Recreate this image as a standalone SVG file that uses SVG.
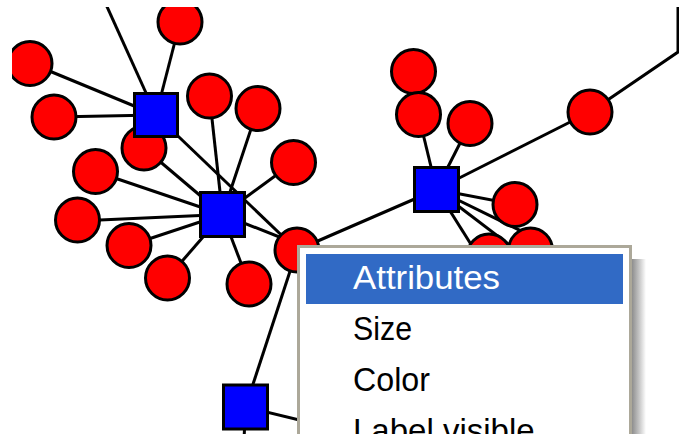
<svg xmlns="http://www.w3.org/2000/svg" width="679" height="434" viewBox="0 0 679 434">
<style>
.e{stroke:#000;stroke-width:3;fill:none}
.c{fill:#FF0000;stroke:#000;stroke-width:3}
.s{fill:#0000FF;stroke:#000;stroke-width:3}
.t{font-family:"Liberation Sans",Arial,sans-serif;font-size:33px}
</style>
<defs>
<clipPath id="canvas"><rect x="12" y="7" width="667" height="427"/></clipPath>
<linearGradient id="shadow" x1="0" y1="0" x2="1" y2="0">
<stop offset="0" stop-color="#8e8e8e"/>
<stop offset="0.5" stop-color="#c4c4c4"/>
<stop offset="1" stop-color="#ffffff"/>
</linearGradient>
</defs>
<rect width="679" height="434" fill="#fff"/>
<g clip-path="url(#canvas)">
<g id="edges">
<line class="e" x1="156" y1="115" x2="104" y2="0"/>
<line class="e" x1="156" y1="115" x2="180" y2="22"/>
<line class="e" x1="156" y1="115" x2="30" y2="63"/>
<line class="e" x1="156" y1="115" x2="54" y2="117"/>
<line class="e" x1="156" y1="115" x2="297" y2="250"/>
<line class="e" x1="144" y1="148" x2="222.5" y2="214.5"/>
<line class="e" x1="209.5" y1="96" x2="222.5" y2="214.5"/>
<line class="e" x1="258" y1="108" x2="222.5" y2="214.5"/>
<line class="e" x1="293.5" y1="162.5" x2="222.5" y2="214.5"/>
<line class="e" x1="95.5" y1="171.5" x2="222.5" y2="214.5"/>
<line class="e" x1="77.5" y1="221" x2="222.5" y2="214.5"/>
<line class="e" x1="129" y1="245.5" x2="222.5" y2="214.5"/>
<line class="e" x1="167.5" y1="278" x2="222.5" y2="214.5"/>
<line class="e" x1="249" y1="284" x2="222.5" y2="214.5"/>
<line class="e" x1="222.5" y1="214.5" x2="297" y2="244"/>
<line class="e" x1="297" y1="250" x2="436.5" y2="189.5"/>
<line class="e" x1="297" y1="250" x2="245.5" y2="407"/>
<line class="e" x1="245.5" y1="407" x2="320" y2="425"/>
<line class="e" x1="245.5" y1="407" x2="244" y2="440"/>
<line class="e" x1="436.5" y1="189.5" x2="418.5" y2="115"/>
<line class="e" x1="436.5" y1="189.5" x2="470" y2="123.5"/>
<line class="e" x1="436.5" y1="189.5" x2="590" y2="112"/>
<line class="e" x1="436.5" y1="189.5" x2="515" y2="204.5"/>
<line class="e" x1="436.5" y1="189.5" x2="484" y2="265"/>
<line class="e" x1="436.5" y1="189.5" x2="545" y2="272"/>
<line class="e" x1="436.5" y1="189.5" x2="560" y2="250"/>
<polyline class="e" points="590,112 678,52 678,0"/>
</g>
<g id="n1"><circle class="c" cx="180" cy="22" r="22"/></g>
<g id="n2"><circle class="c" cx="30" cy="63.5" r="22"/></g>
<g id="n3"><circle class="c" cx="54" cy="117" r="22"/></g>
<g id="n4"><circle class="c" cx="144" cy="148" r="22"/></g>
<g id="n5"><circle class="c" cx="209.5" cy="96" r="22"/></g>
<g id="n6"><circle class="c" cx="258" cy="108.5" r="22"/></g>
<g id="n7"><circle class="c" cx="293.5" cy="162.5" r="22"/></g>
<g id="n8"><circle class="c" cx="95.5" cy="171.5" r="22"/></g>
<g id="n9"><circle class="c" cx="77.5" cy="220" r="22"/></g>
<g id="n10"><circle class="c" cx="129" cy="245.5" r="22"/></g>
<g id="n11"><circle class="c" cx="167.5" cy="278" r="22"/></g>
<g id="n12"><circle class="c" cx="249" cy="284" r="22"/></g>
<g id="n13"><circle class="c" cx="297" cy="250" r="22"/></g>
<g id="n14"><circle class="c" cx="413.5" cy="71.5" r="22"/></g>
<g id="n15"><circle class="c" cx="418.5" cy="114.5" r="22"/></g>
<g id="n16"><circle class="c" cx="470" cy="123.5" r="22"/></g>
<g id="n17"><circle class="c" cx="590" cy="112" r="22"/></g>
<g id="n18"><circle class="c" cx="515" cy="204.5" r="22"/></g>
<g id="n19"><circle class="c" cx="489" cy="256" r="22"/></g>
<g id="n20"><circle class="c" cx="530.5" cy="250" r="22"/></g>
<g id="s1"><rect class="s" x="134.5" y="93.5" width="43" height="43"/></g>
<g id="s2"><rect class="s" x="200.5" y="192.5" width="44" height="44"/></g>
<g id="s3"><rect class="s" x="414.5" y="167.5" width="44" height="44"/></g>
<g id="s4"><rect class="s" x="223.5" y="385" width="44" height="44"/></g>
</g>
<g id="menu">
<rect x="632" y="259" width="14" height="180" fill="url(#shadow)"/>
<rect x="298.5" y="246.5" width="332" height="200" fill="#fff" stroke="#ACA899" stroke-width="3"/>
<rect x="306" y="254" width="317" height="50" fill="#316AC5"/>
<text class="t" x="353" y="289" fill="#fff" textLength="147" lengthAdjust="spacingAndGlyphs">Attributes</text>
<text class="t" x="353" y="340" fill="#000" textLength="59" lengthAdjust="spacingAndGlyphs">Size</text>
<text class="t" x="353" y="391" fill="#000" textLength="77" lengthAdjust="spacingAndGlyphs">Color</text>
<text class="t" x="353" y="442" fill="#000">Label visible</text>
</g>
</svg>
